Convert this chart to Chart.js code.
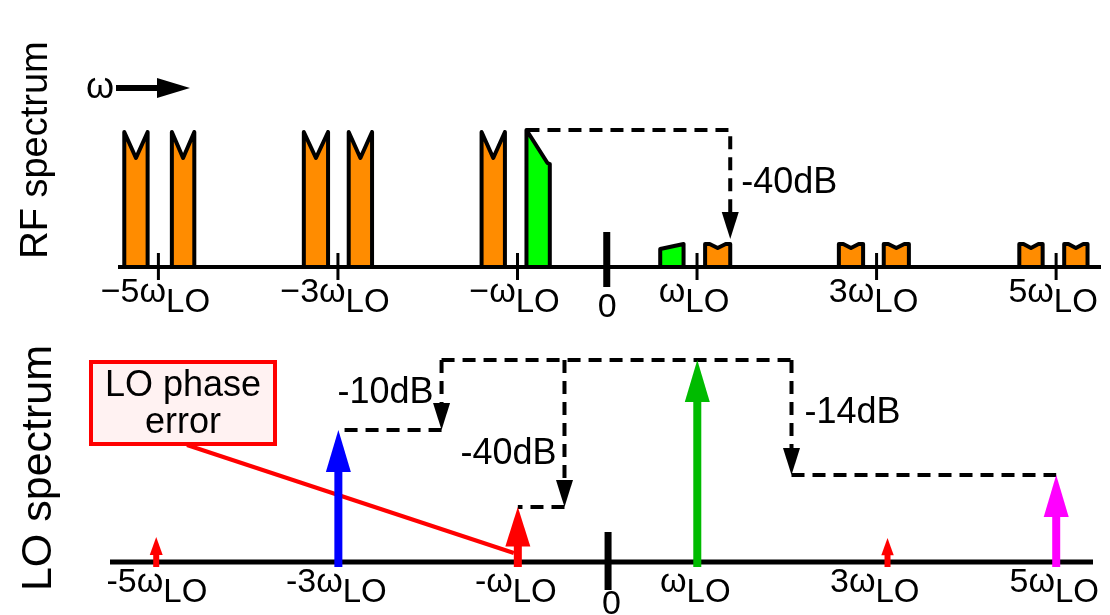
<!DOCTYPE html>
<html>
<head>
<meta charset="utf-8">
<script src="https://cdn.jsdelivr.net/npm/chart.js@4/dist/chart.umd.min.js"></script>
<style>
  body { margin: 0; background: #fff; width: 1110px; height: 615px; position: relative; overflow: hidden; }
  #rf { position: absolute; left: 0; top: 0; }
  #lo { position: absolute; left: 0; top: 330px; }
</style>
</head>
<body>
<canvas id="rf" width="1110" height="330"></canvas>
<canvas id="lo" width="1110" height="285"></canvas>
<script>
// harmonics of the LO, in units of wLO
var harmonics = [-5, -3, -1, 1, 3, 5];
var rfTickText = ['\u22125', '\u22123', '\u2212', '', '3', '5'];
var loTickText = ['-5', '-3', '-', '', '3', '5'];

// RF bands: left / right edge (wLO units) and outline kind
var rfLeft  = [-5.38, -4.85, -3.38, -2.88, -1.40, -0.90, 0.59, 1.09, 2.58, 3.08, 4.59, 5.09];
var rfRight = [-5.12, -4.60, -3.11, -2.62, -1.14, -0.64, 0.85, 1.37, 2.85, 3.36, 4.85, 5.35];
var rfKind  = ['sig', 'sig', 'sig', 'sig', 'sig', 'img', 'imgLow', 'sigLow', 'sigLow', 'sigLow', 'sigLow', 'sigLow'];

// top outline of each kind: fraction across the band -> level
var topAt = {
  sig:    [0, 0.5, 1],
  img:    [0, 0.9, 1],
  imgLow: [0, 1],
  sigLow: [0, 0.18, 0.5, 0.82, 1]
};
var topLevel = {
  sig:    [67.5, 54.5, 67.5],
  img:    [68.5, 52, 51.5],
  imgLow: [9, 11.5],
  sigLow: [11.5, 11.5, 9.5, 11.5, 11.5]
};

// LO spectrum lines
var loPos   = [-5.03, -3, -1, 1, 3.12, 5];
var loLevel = [25, 132, 55, 202, 24, 87];

var kindFill = { sig: '#ff8c00', img: '#00ff00', imgLow: '#00ff00', sigLow: '#ff8c00' };
var loColors = ['#ff0000', '#0000ff', '#ff0000', '#00bb00', '#ff0000', '#ff00ff'];

var FONT = "'Liberation Sans', Arial, sans-serif";

function tickLabel(ctx, cx, base, pre) {
  ctx.textAlign = 'left';
  ctx.textBaseline = 'alphabetic';
  ctx.font = '34px ' + FONT;
  var a = ctx.measureText(pre + '\u03c9').width;
  ctx.font = '33px ' + FONT;
  var b = ctx.measureText('LO').width;
  var x0 = cx - (a + b) / 2;
  ctx.font = '34px ' + FONT;
  ctx.fillText(pre + '\u03c9', x0, base);
  ctx.font = '33px ' + FONT;
  ctx.fillText('LO', x0 + a, base + 10);
}

function sideTitle(ctx, text, x, y, size) {
  ctx.save();
  ctx.translate(x, y);
  ctx.rotate(-Math.PI / 2);
  ctx.font = size + 'px ' + FONT;
  ctx.textAlign = 'center';
  ctx.textBaseline = 'alphabetic';
  ctx.fillStyle = '#000';
  ctx.fillText(text, 0, 0);
  ctx.restore();
}

function downHead(ctx, x, yTip) {
  ctx.beginPath();
  ctx.moveTo(x, yTip);
  ctx.lineTo(x + 8.5, yTip - 27);
  ctx.lineTo(x - 8.5, yTip - 27);
  ctx.closePath();
  ctx.fill();
}

function upArrow(ctx, x, yBase, yTip, color) {
  var len = yBase - yTip;
  var hl = Math.min(42, len * 0.72), hw = Math.min(25, hl * 0.72), sw = len < 35 ? 6 : 8;
  ctx.fillStyle = color;
  ctx.fillRect(x - sw / 2, yTip + hl - 1, sw, yBase + 5 - (yTip + hl - 1));
  ctx.beginPath();
  ctx.moveTo(x, yTip);
  ctx.lineTo(x + hw / 2, yTip + hl);
  ctx.lineTo(x - hw / 2, yTip + hl);
  ctx.closePath();
  ctx.fill();
}

// ---------- RF spectrum ----------
var rfSets = rfLeft.map(function (l, i) {
  var r = rfRight[i], k = rfKind[i];
  var pts = [{ x: l, y: 0 }];
  topAt[k].forEach(function (f, j) { pts.push({ x: l + f * (r - l), y: topLevel[k][j] }); });
  pts.push({ x: r, y: 0 });
  return {
    data: pts, borderColor: '#000', borderWidth: 4, borderJoinStyle: 'round',
    backgroundColor: kindFill[k], fill: 'origin', pointRadius: 0, tension: 0
  };
});

var rfDecor = {
  id: 'rfDecor',
  afterDatasetsDraw: function (chart) {
    var ctx = chart.ctx, xs = chart.scales.x, ys = chart.scales.y, area = chart.chartArea;
    var y0 = ys.getPixelForValue(0);
    ctx.save();
    ctx.strokeStyle = '#000';
    ctx.fillStyle = '#000';

    // frequency axis
    ctx.lineWidth = 4;
    ctx.beginPath(); ctx.moveTo(area.left, y0); ctx.lineTo(area.right, y0); ctx.stroke();
    ctx.lineWidth = 3;
    harmonics.forEach(function (h, i) {
      var px = xs.getPixelForValue(h);
      ctx.beginPath(); ctx.moveTo(px, y0 - 14); ctx.lineTo(px, y0 + 13); ctx.stroke();
      tickLabel(ctx, px - 3, y0 + 35, rfTickText[i]);
    });
    var zx = xs.getPixelForValue(0);
    ctx.fillRect(zx - 4, y0 - 35, 7, 55);
    ctx.font = '34px ' + FONT; ctx.textAlign = 'center';
    ctx.fillText('0', zx, y0 + 50);

    // direction of w
    ctx.font = '36px ' + FONT; ctx.textAlign = 'left';
    ctx.fillText('\u03c9', 86, 98);
    ctx.fillRect(116, 85, 44, 6);
    ctx.beginPath(); ctx.moveTo(190, 88); ctx.lineTo(157, 78); ctx.lineTo(157, 98); ctx.closePath(); ctx.fill();

    // image rejection step: big image band -> wanted band at +wLO
    var fx = xs.getPixelForValue(rfLeft[5]), fy = ys.getPixelForValue(topLevel.img[0]);
    var bx = xs.getPixelForValue(rfRight[7]), ty = ys.getPixelForValue(topLevel.sigLow[0]) - 5;
    ctx.lineWidth = 4; ctx.setLineDash([13, 8]);
    ctx.beginPath(); ctx.moveTo(fx, fy); ctx.lineTo(bx, fy); ctx.lineTo(bx, ty - 22); ctx.stroke();
    ctx.setLineDash([]);
    downHead(ctx, bx, ty);
    ctx.font = '36px ' + FONT; ctx.textAlign = 'left';
    ctx.fillText('-40dB', bx + 11, fy + 63);

    sideTitle(ctx, 'RF spectrum', 47, 150, 38);
    ctx.restore();
  }
};

new Chart('rf', {
  type: 'line',
  data: { datasets: rfSets },
  options: {
    responsive: false,
    animation: false,
    layout: { padding: { left: 118, right: 9, top: 127, bottom: 63 } },
    plugins: { legend: { display: false }, tooltip: { enabled: false } },
    scales: {
      x: { type: 'linear', min: -5.45, max: 5.5, display: false },
      y: { min: 0, max: 70, display: false }
    }
  },
  plugins: [rfDecor]
});

// ---------- LO spectrum ----------
// dashed level steps from the fundamental down to other components
var loSteps = [
  { target: 1, bend: -1.85, text: '-10dB', side: 'left', frac: 0.62 },
  { target: 2, bend: -0.48, text: '-40dB', side: 'left', frac: 0.71 },
  { target: 5, bend: 2.05, text: '-14dB', side: 'right', frac: 0.55 }
];

var loDecor = {
  id: 'loDecor',
  afterDatasetsDraw: function (chart) {
    var ctx = chart.ctx, xs = chart.scales.x, ys = chart.scales.y, area = chart.chartArea;
    var y0 = ys.getPixelForValue(0);
    var pts = chart.getDatasetMeta(0).data;
    ctx.save();
    ctx.fillStyle = '#000'; ctx.strokeStyle = '#000';

    // axis, zero marker, labels
    ctx.lineWidth = 5;
    ctx.beginPath(); ctx.moveTo(area.left, y0); ctx.lineTo(area.right, y0); ctx.stroke();
    var zx = xs.getPixelForValue(0);
    ctx.fillRect(zx - 3, y0 - 30, 7, 58);
    harmonics.forEach(function (h, i) {
      tickLabel(ctx, xs.getPixelForValue(h) - 2, y0 + 30, loTickText[i]);
    });
    ctx.font = '34px ' + FONT; ctx.textAlign = 'center';
    ctx.fillText('0', zx + 4, y0 + 52);

    // phase error callout
    var box = { x: 91, y: 32, w: 184, h: 82 };
    ctx.fillStyle = '#fff2f2';
    ctx.fillRect(box.x, box.y, box.w, box.h);
    ctx.strokeStyle = '#ff0000'; ctx.lineWidth = 4;
    ctx.strokeRect(box.x, box.y, box.w, box.h);
    ctx.fillStyle = '#000';
    ctx.font = '36px ' + FONT; ctx.textAlign = 'center';
    ctx.fillText('LO phase', box.x + box.w / 2, box.y + 34);
    ctx.fillText('error', box.x + box.w / 2, box.y + 71);
    ctx.beginPath();
    ctx.moveTo(box.x + 96, box.y + box.h + 1);
    ctx.lineTo(pts[2].x - 4, y0 - 9);
    ctx.stroke();

    // dashed level steps
    var top = pts[3].y;
    var bends = loSteps.map(function (s) { return xs.getPixelForValue(s.bend); });
    ctx.strokeStyle = '#000'; ctx.lineWidth = 4; ctx.setLineDash([13, 8]);
    ctx.beginPath(); ctx.moveTo(Math.min.apply(null, bends), top); ctx.lineTo(Math.max.apply(null, bends), top); ctx.stroke();
    loSteps.forEach(function (s, i) {
      var bx = bends[i], t = pts[s.target];
      ctx.setLineDash([13, 8]);
      ctx.beginPath(); ctx.moveTo(bx, top); ctx.lineTo(bx, t.y - 22); ctx.stroke();
      ctx.beginPath(); ctx.moveTo(bx, t.y); ctx.lineTo(t.x, t.y); ctx.stroke();
      ctx.setLineDash([]);
      ctx.fillStyle = '#000';
      downHead(ctx, bx, t.y);
      ctx.font = '36px ' + FONT;
      ctx.textAlign = s.side === 'left' ? 'right' : 'left';
      ctx.fillText(s.text, s.side === 'left' ? bx - 8 : bx + 13, top + s.frac * (t.y - top));
    });
    ctx.setLineDash([]);

    // LO components
    pts.forEach(function (p, i) { upArrow(ctx, p.x, y0, p.y, loColors[i]); });

    sideTitle(ctx, 'LO spectrum', 51, 138, 43);
    ctx.restore();
  }
};

new Chart('lo', {
  type: 'scatter',
  data: {
    datasets: [{
      data: loPos.map(function (p, i) { return { x: p, y: loLevel[i] }; }),
      pointRadius: 0
    }]
  },
  options: {
    responsive: false,
    animation: false,
    layout: { padding: { left: 110, right: 17, top: 22, bottom: 53 } },
    plugins: { legend: { display: false }, tooltip: { enabled: false } },
    scales: {
      x: { type: 'linear', min: -5.545, max: 5.41, display: false },
      y: { min: 0, max: 210, display: false }
    }
  },
  plugins: [loDecor]
});
</script>
</body>
</html>
